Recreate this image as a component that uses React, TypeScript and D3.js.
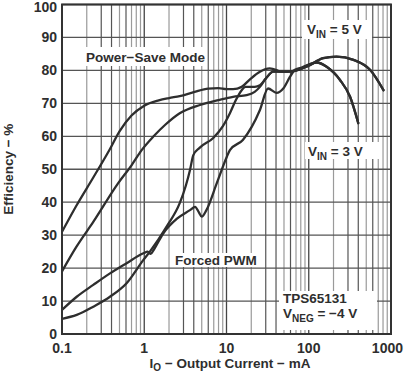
import React from "react";
import * as d3 from "d3";

// Output current (mA) / efficiency (%) pairs
const ps3X = [0.1, 0.15, 0.24, 0.38, 0.5, 0.7, 1, 1.5, 2, 2.7, 4, 6, 8, 10, 12, 15.3, 19.3, 25.5, 33.5, 40.6, 45, 59, 78, 100, 125, 165, 240, 318, 400];
const ps3Y = [31, 39, 47.5, 56, 61.5, 66.3, 69.3, 70.9, 71.6, 72.2, 73.4, 74.5, 74.6, 74.3, 74.3, 75, 77.3, 79.6, 80.6, 80.1, 79.6, 79.6, 80.3, 81.8, 82.4, 81.1, 77.1, 72, 64];

const ps5X = [0.1, 0.15, 0.24, 0.48, 0.7, 0.93, 1.3, 1.8, 2.7, 4.75, 8, 12, 17.6, 22, 25.5, 30, 37, 54, 70, 94, 150, 217, 350, 560, 810];
const ps5Y = [19, 26.5, 34, 45.7, 51.2, 55.8, 60, 63.5, 67, 69.5, 71, 72, 72.5, 73.5, 75, 77.5, 79.6, 79.6, 80, 81.1, 83.7, 84.2, 83.2, 80.1, 74];

const pwm3X = [0.1, 0.151, 0.24, 0.383, 0.61, 0.977, 1.1, 1.2, 1.3, 1.7, 2.5, 3.6, 4.15, 4.6, 5.0, 5.7, 7.6, 10.1, 11, 15.8, 25.5, 32, 40.6, 49, 59, 68, 80, 100, 125, 165, 240, 318, 400];
const pwm3Y = [7.3, 11.3, 14.9, 18.4, 21.5, 24.5, 25, 24.3, 25.5, 30.5, 35, 37.6, 38.6, 37, 35.6, 37.6, 45.7, 53.8, 55.8, 58.9, 68, 74.5, 73.2, 74.5, 78, 80.2, 80.8, 81.8, 82.4, 81.1, 77.1, 72, 64];

const pwm5X = [0.1, 0.151, 0.24, 0.383, 0.61, 0.977, 1.17, 1.87, 2.7, 3.2, 3.6, 3.95, 4.7, 6.9, 9, 11, 13, 15.3, 17, 22, 25.5, 30, 37, 54, 70, 94, 150, 217, 350, 560, 810];
const pwm5Y = [4.6, 5.8, 8.3, 11.3, 15.4, 22.5, 25, 32.6, 39.7, 45, 49.8, 54.3, 56.5, 59.5, 63, 67, 71, 74, 75, 75, 75.5, 77.5, 79.6, 79.6, 80, 81.1, 83.7, 84.2, 83.2, 80.1, 74];

const xTickValues = [0.1, 1, 10, 100, 1000];
const xTickLabels = ["0.1", "1", "10", "100", "1000"];
const yTickValues = [0, 10, 20, 30, 40, 50, 60, 70, 80, 90, 100];

const W = 404;
const H = 375;
const left = 62;
const right = 391;
const top = 4.5;
const bottom = 334;

const FONT = "'Liberation Sans', Arial, Helvetica, sans-serif";
const INK = "#2e2e2e";

export default function App() {
  const x = d3.scaleLog().domain([0.1, 1000]).range([left, right]);
  const y = d3.scaleLinear().domain([0, 100]).range([bottom, top]);

  const line = d3
    .line<[number, number]>()
    .x((d) => x(d[0]))
    .y((d) => y(d[1]))
    .curve(d3.curveMonotoneX);

  const zip = (xs: number[], ys: number[]) => xs.map((v, i) => [v, ys[i]] as [number, number]);
  const series = [zip(ps3X, ps3Y), zip(ps5X, ps5Y), zip(pwm3X, pwm3Y), zip(pwm5X, pwm5Y)];

  const minor: { v: number; m: number }[] = [];
  for (let e = -1; e < 3; e++) {
    for (let m = 2; m <= 9; m++) minor.push({ v: m * Math.pow(10, e), m });
  }
  const minorColor = (m: number) => (m === 3 || m === 4 || m === 6 ? "#555" : "#9a9a9a");

  return (
    <svg
      width={W}
      height={H}
      style={{ position: "absolute", left: 0, top: 0, background: "#fff" }}
      fontFamily={FONT}
      fontWeight="bold"
    >
      <defs>
        <clipPath id="plot">
          <rect x={left} y={top} width={right - left} height={bottom - top} />
        </clipPath>
      </defs>
      <rect x={0} y={0} width={W} height={H} fill="#fff" />

      {/* vertical minor grid */}
      {minor.map((d, i) => (
        <line key={"vm" + i} x1={x(d.v)} x2={x(d.v)} y1={top} y2={bottom} stroke={minorColor(d.m)} strokeWidth={1.2} />
      ))}
      {/* vertical decade grid */}
      {xTickValues.map((v, i) => (
        <line key={"vd" + i} x1={x(v)} x2={x(v)} y1={top} y2={bottom} stroke="#444" strokeWidth={1.3} />
      ))}
      {/* horizontal grid */}
      {yTickValues.map((v, i) => (
        <line key={"h" + i} x1={left} x2={right} y1={y(v)} y2={y(v)} stroke="#555" strokeWidth={1.3} />
      ))}

      {/* label backgrounds */}
      <rect x={84} y={47} width={122} height={19} fill="#fff" />
      <rect x={302} y={20} width={70} height={19} fill="#fff" />
      <rect x={305} y={142} width={77} height={17} fill="#fff" />
      <rect x={171} y={253} width={94} height={14} fill="#fff" />
      <rect x={279} y={291} width={98} height={39} fill="#fff" />

      {/* curves */}
      <g clipPath="url(#plot)">
        {series.map((s, i) => (
          <path key={"s" + i} d={line(s) || ""} fill="none" stroke={INK} strokeWidth={2.3} strokeLinejoin="round" strokeLinecap="round" />
        ))}
      </g>

      {/* frame */}
      <rect x={left} y={top} width={right - left} height={bottom - top} fill="none" stroke="#333" strokeWidth={2} />

      {/* y ticks */}
      {yTickValues.map((v, i) => (
        <text key={"yt" + i} x={57} y={Math.max(y(v) + 5, 11.5)} textAnchor="end" fontSize={14} fill={INK}>
          {v}
        </text>
      ))}
      {/* x ticks */}
      {xTickValues.map((v, i) => (
        <text
          key={"xt" + i}
          x={i === xTickValues.length - 1 ? 403 : x(v)}
          y={353}
          textAnchor={i === xTickValues.length - 1 ? "end" : "middle"}
          fontSize={14}
          fill={INK}
        >
          {xTickLabels[i]}
        </text>
      ))}

      {/* axis titles */}
      <text x={230} y={368} textAnchor="middle" fontSize={13.5} fill={INK}>
        I<tspan fontSize={10} dy={3}>O</tspan>
        <tspan dy={-3}> − Output Current − mA</tspan>
      </text>
      <text transform={`translate(13,${(top + bottom) / 2}) rotate(-90)`} textAnchor="middle" fontSize={13.5} fill={INK}>
        Efficiency − %
      </text>

      {/* annotations */}
      <text x={86} y={61.5} fontSize={13.5} fill={INK}>Power−Save Mode</text>
      <text x={307} y={34} fontSize={13.5} fill={INK}>
        V<tspan fontSize={10} dy={3.5}>IN</tspan>
        <tspan dy={-3.5}> = 5 V</tspan>
      </text>
      <text x={308} y={156} fontSize={13.5} fill={INK}>
        V<tspan fontSize={10} dy={3.5}>IN</tspan>
        <tspan dy={-3.5}> = 3 V</tspan>
      </text>
      <text x={175} y={265} fontSize={13.5} fill={INK}>Forced PWM</text>
      <text x={283} y={303} fontSize={13.5} fill={INK}>TPS65131</text>
      <text x={283} y={318} fontSize={13.5} fill={INK}>
        V<tspan fontSize={10} dy={3.5}>NEG</tspan>
        <tspan dy={-3.5}> = −4 V</tspan>
      </text>
    </svg>
  );
}
